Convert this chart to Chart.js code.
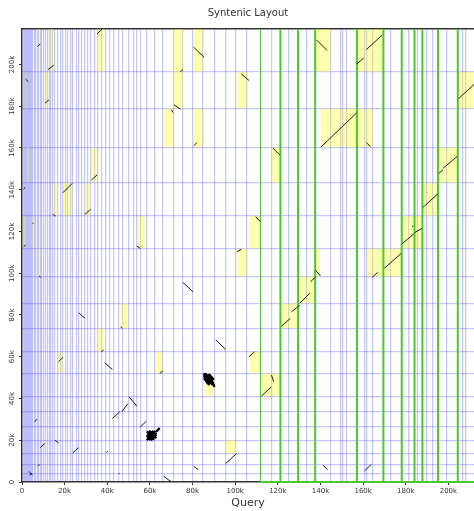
<!DOCTYPE html>
<html>
<head>
<meta charset="utf-8">
<title>Syntenic Layout</title>
<script src="https://cdn.jsdelivr.net/npm/chart.js@4.4.1/dist/chart.umd.min.js"></script>
<style>
  html, body { margin: 0; padding: 0; background: #fff; }
  #wrap { width: 474px; height: 511px; }
</style>
</head>
<body>
<div id="wrap"><canvas id="dotplot"></canvas></div>
<script>
// sequence extents (kb)
const queryMax = 212;
const subjectMax = 217;

// axis ticks (kb)
const xTicks = [0, 20, 40, 60, 80, 100, 120, 140, 160, 180, 200];
const yTicks = [0, 20, 40, 60, 80, 100, 120, 140, 160, 180, 200];

// contig boundaries on the query (x) axis, kb
const queryBounds = [
  0.56, 1.03, 1.5, 1.97, 2.44, 2.91, 3.38, 3.94, 4.55, 5.16, 5.82, 6.43, 7.22, 7.97,
  8.63, 9.24, 10.18, 11.12, 12.05, 12.76, 13.46, 14.26, 15.34, 16.74, 17.92, 18.95,
  20.26, 21.44, 22.61, 23.92, 25.42, 26.45, 28.0, 29.41, 30.82, 32.22, 33.86, 35.51,
  37.38, 39.26, 41.14, 43.01, 45.22, 47.0, 50.05, 52.39, 53.94, 55.67, 58.49, 62.38,
  66.0, 70.9, 75.5, 80.2, 84.9, 90.2, 95.4, 100.4, 105.4, 111.8, 117.0, 125.2, 133.4,
  144.9, 149.3, 150.6, 152.4, 160.5, 161.8, 164.6, 173.1, 181.4, 185.6, 189.7, 192.8,
  199.3, 206.7, 208.0
];

// contig boundaries on the subject (y) axis, kb
const subjectBounds = [
  4.2, 8.5, 13.6, 20.0, 26.4, 33.6, 41.1, 52.0, 62.4, 73.6, 85.6, 98.3, 111.9,
  127.4, 143.4, 160.4, 178.8, 196.4
];

// query contigs flagged in green (first one drawn thin)
const greenBounds = [111.8, 121.2, 129.5, 137.5, 157.1, 169.5, 178.1, 184.1, 187.8, 195.1, 204.4];

// highlighted contig pairs: [qStart, qEnd, sStart, sEnd] (kb)
const blocks = [
  [7.2, 8.4, 196.4, 217.1], [12.7, 14.5, 196.4, 217.1], [35.2, 38.3, 196.4, 217.1],
  [10.8, 12.4, 178.8, 196.4], [1.7, 2.3, 178.8, 196.4], [2.3, 3.3, 143.4, 160.4],
  [32.4, 35.2, 143.4, 160.4], [14.7, 16.9, 127.4, 143.4], [19.2, 23.6, 127.4, 143.4],
  [29.5, 32.1, 127.4, 143.4], [0.8, 1.7, 111.9, 127.4], [4.9, 5.8, 111.9, 127.4],
  [53.9, 57.7, 111.9, 127.4], [7.2, 8.4, 98.3, 111.9], [46.2, 49.7, 73.6, 85.6],
  [35.2, 38.3, 62.4, 73.6], [17.1, 19.2, 52.0, 62.4], [62.4, 66.1, 52.0, 62.4],
  [85.7, 90.1, 41.1, 52.0], [106.8, 111.8, 52.0, 62.4], [111.8, 121.2, 41.1, 52.0],
  [95.5, 100.6, 13.6, 20.0], [70.8, 75.5, 178.8, 217.1], [80.2, 85.4, 196.4, 217.1],
  [100.8, 106.0, 178.8, 196.4], [66.1, 70.8, 160.4, 178.8], [80.2, 85.4, 160.4, 178.8],
  [117.0, 121.2, 143.4, 160.4], [106.5, 111.8, 111.9, 127.4], [100.8, 106.0, 98.3, 111.9],
  [121.7, 129.5, 73.6, 85.6], [129.9, 137.6, 85.6, 98.3], [137.6, 139.8, 98.3, 111.9],
  [162.2, 177.8, 98.3, 111.9], [178.2, 187.6, 111.9, 127.4], [187.6, 195.0, 127.4, 143.4],
  [195.0, 204.4, 143.4, 160.4], [137.6, 144.9, 196.4, 217.1], [157.1, 169.3, 196.4, 217.1],
  [204.4, 212.0, 178.8, 196.4], [140.2, 156.8, 160.4, 178.8], [156.8, 164.6, 160.4, 178.8]
];

// alignments: [qStart, sStart, qEnd, sEnd] (kb)
const hits = [
  [7.2, 208.6, 8.6, 209.9], [12.2, 197.5, 14.9, 199.7], [1.7, 193.0, 3.0, 191.7],
  [10.8, 181.5, 12.7, 183.1], [35.2, 214.6, 37.7, 217.1], [80.5, 208.3, 85.4, 203.5],
  [74.3, 196.6, 75.5, 197.5], [71.2, 180.7, 74.3, 178.6], [70.1, 178.3, 70.8, 177.0],
  [102.9, 195.5, 106.5, 192.3], [80.5, 161.0, 82.1, 162.6], [117.7, 159.9, 120.9, 156.7],
  [138.1, 211.8, 143.1, 206.7], [157.1, 200.3, 160.3, 203.1], [161.5, 207.1, 169.0, 214.2],
  [204.8, 183.7, 212.5, 190.9], [140.2, 160.4, 156.8, 176.7], [161.5, 162.6, 163.4, 160.7],
  [197.5, 150.3, 204.0, 155.9], [195.5, 147.9, 197.5, 149.5], [188.1, 131.6, 195.0, 138.0],
  [184.1, 119.4, 187.6, 121.5], [178.2, 114.0, 183.7, 118.8], [183.0, 122.4, 183.3, 122.8],
  [170.0, 102.4, 177.8, 109.5], [164.2, 98.0, 166.8, 100.4], [137.6, 101.5, 140.0, 98.7],
  [109.6, 127.1, 111.8, 124.7], [100.8, 110.3, 102.9, 111.5], [75.5, 95.6, 80.2, 91.1],
  [121.7, 74.7, 125.9, 78.4], [126.4, 81.5, 130.3, 84.7], [130.3, 85.6, 134.9, 90.4],
  [135.3, 95.9, 137.8, 98.3], [0.8, 140.2, 1.4, 141.2], [14.5, 128.2, 15.8, 127.4],
  [19.2, 138.6, 23.6, 143.1], [29.5, 128.2, 32.1, 130.6], [32.6, 144.7, 35.2, 147.1],
  [0.8, 112.7, 1.7, 113.5], [5.1, 124.2, 5.3, 123.7], [8.0, 98.7, 8.8, 98.0],
  [53.9, 113.0, 55.5, 111.8], [26.6, 81.1, 29.5, 78.4], [46.2, 74.3, 47.1, 73.6],
  [37.2, 62.4, 38.3, 63.2], [17.1, 57.6, 19.2, 59.7], [38.8, 57.1, 42.4, 53.9],
  [50.2, 40.8, 53.9, 36.3], [46.8, 33.6, 49.7, 37.6], [42.4, 30.4, 45.8, 33.6],
  [55.5, 26.4, 58.3, 29.1], [6.0, 28.8, 7.0, 30.1], [8.6, 16.5, 10.6, 18.4],
  [15.5, 20.0, 17.1, 18.7], [23.9, 14.1, 26.6, 16.5], [39.6, 14.1, 40.3, 14.7],
  [7.5, 7.7, 8.3, 8.3], [3.3, 5.1, 4.9, 3.2], [3.6, 3.2, 4.5, 4.1], [45.5, 4.0, 45.8, 4.2],
  [90.9, 68.0, 95.5, 63.5], [106.5, 60.0, 109.1, 62.4], [112.3, 41.1, 117.0, 45.6],
  [117.0, 51.2, 118.1, 48.0], [95.5, 8.8, 100.6, 13.6], [80.5, 7.5, 82.6, 5.9],
  [66.5, 2.7, 70.1, 0.0], [64.6, 52.0, 66.1, 53.2], [141.2, 8.0, 143.4, 5.9],
  [160.6, 5.3, 163.9, 8.5]
];

// tangles of many short repeat hits
const repeatHits = [
  [58.6, 20.0, 61.5, 24.5], [59.5, 20.0, 62.5, 24.5], [60.5, 20.0, 63.0, 23.5],
  [58.6, 21.5, 60.5, 24.5], [58.6, 24.3, 62.0, 20.2], [59.5, 24.5, 63.0, 21.0],
  [58.6, 22.5, 61.0, 20.0], [61.0, 24.5, 63.0, 22.0], [62.8, 24.0, 64.6, 25.8],
  [85.3, 52.0, 88.0, 48.0], [85.3, 51.0, 87.5, 47.5], [85.8, 52.0, 88.5, 48.5],
  [86.0, 51.5, 89.0, 48.0], [85.5, 50.5, 88.5, 47.0], [86.5, 51.0, 90.4, 45.6],
  [86.0, 50.0, 89.5, 46.5], [85.3, 52.0, 86.5, 49.5], [87.0, 51.5, 89.5, 48.5],
  [85.3, 49.8, 87.8, 46.4], [85.6, 52.0, 89.8, 47.3], [87.2, 50.6, 90.2, 46.2],
  [85.4, 51.6, 88.6, 49.6], [86.2, 52.0, 87.2, 47.0], [87.6, 51.8, 90.0, 49.0]
];

const GREEN = '#4cc72e';
const GRID_BLUE = 'rgba(80, 80, 255, 0.33)';
const INK = '#333';

function seg(x1, y1, x2, y2) {
  return [{ x: x1, y: y1 }, { x: x2, y: y2 }];
}

const datasets = [];

// yellow contig-pair blocks
blocks.forEach(([x1, x2, y1, y2]) => {
  datasets.push({
    data: [{ x: x1, y: y1 }, { x: x2, y: y1 }, { x: x2, y: y2 }, { x: x1, y: y2 }, { x: x1, y: y1 }],
    borderColor: 'transparent',
    borderWidth: 0,
    backgroundColor: 'rgba(255, 255, 0, 0.31)',
    fill: 'shape',
    order: 4
  });
});

// green query contigs + green stretch of the bottom axis
greenBounds.forEach((g, i) => {
  datasets.push({
    data: seg(g, 0, g, subjectMax),
    borderColor: GREEN,
    borderWidth: i === 0 ? 1 : 2,
    order: 3
  });
});
datasets.push({
  data: seg(greenBounds[0], 0, queryMax, 0),
  borderColor: GREEN,
  borderWidth: 2,
  clip: 2,
  order: 3
});

hits.forEach(([x1, y1, x2, y2]) => {
  datasets.push({ data: seg(x1, y1, x2, y2), borderColor: '#1a1a1a', borderWidth: 1, order: 1 });
});
repeatHits.forEach(([x1, y1, x2, y2]) => {
  datasets.push({ data: seg(x1, y1, x2, y2), borderColor: '#000', borderWidth: 2.2, order: 1 });
});

// rotated labels for the subject axis
const yTickLabels = {
  id: 'yTickLabels',
  afterDraw(chart) {
    const { ctx, scales: { y } } = chart;
    ctx.save();
    ctx.font = '7px "DejaVu Sans"';
    ctx.fillStyle = INK;
    ctx.textAlign = 'center';
    ctx.textBaseline = 'middle';
    yTicks.forEach(v => {
      ctx.save();
      ctx.translate(12.5, y.getPixelForValue(v));
      ctx.rotate(-Math.PI / 2);
      ctx.fillText(v ? v + 'k' : '0', 0, 0);
      ctx.restore();
    });
    ctx.restore();
  }
};

Chart.defaults.font.family = '"DejaVu Sans"';
Chart.defaults.color = INK;

new Chart(document.getElementById('dotplot'), {
  type: 'line',
  data: { datasets },
  plugins: [yTickLabels],
  options: {
    responsive: true,
    maintainAspectRatio: false,
    animation: false,
    events: [],
    layout: { padding: 0 },
    elements: {
      point: { radius: 0 },
      line: { tension: 0, fill: false }
    },
    plugins: {
      legend: { display: false },
      tooltip: { enabled: false },
      title: {
        display: true,
        text: 'Syntenic Layout',
        fullSize: false,
        color: INK,
        font: { size: 10, weight: 'normal' },
        padding: { top: 7, bottom: 10 }
      }
    },
    scales: {
      x: {
        type: 'linear',
        min: 0,
        max: queryMax,
        afterBuildTicks: s => { s.ticks = xTicks.map(v => ({ value: v })); },
        afterFit: s => { s.height = 29; },
        ticks: {
          font: { size: 7 },
          color: INK,
          padding: 2,
          maxRotation: 0,
          autoSkip: false,
          callback: v => (v ? v + 'k' : '0')
        },
        grid: { drawOnChartArea: false, tickLength: 3, color: INK },
        border: { color: INK, width: 1.5 },
        title: {
          display: true,
          text: 'Query',
          color: INK,
          font: { size: 11 },
          padding: { top: 0, bottom: 1 }
        }
      },
      y: {
        type: 'linear',
        min: 0,
        max: subjectMax,
        afterBuildTicks: s => { s.ticks = yTicks.map(v => ({ value: v })); },
        afterFit: s => { s.width = 22; },
        ticks: { display: false },
        grid: { drawOnChartArea: false, tickLength: 3, color: INK },
        border: { color: INK, width: 1.5 }
      },
      // query contig boundaries, drawn as grid lines; its border is the top frame
      qx: {
        type: 'linear',
        position: 'top',
        min: 0,
        max: queryMax,
        afterBuildTicks: s => { s.ticks = queryBounds.map(v => ({ value: v })); },
        afterFit: s => { s.height = 0; },
        ticks: { display: false },
        grid: { color: GRID_BLUE, lineWidth: 1.2, drawTicks: false },
        border: { display: true, color: INK, width: 1.5 }
      },
      // subject contig boundaries
      qy: {
        type: 'linear',
        position: 'right',
        min: 0,
        max: subjectMax,
        afterBuildTicks: s => { s.ticks = subjectBounds.map(v => ({ value: v })); },
        afterFit: s => { s.width = 0; },
        ticks: { display: false },
        grid: { color: GRID_BLUE, lineWidth: 1.2, drawTicks: false },
        border: { display: false }
      }
    }
  }
});
</script>
</body>
</html>
